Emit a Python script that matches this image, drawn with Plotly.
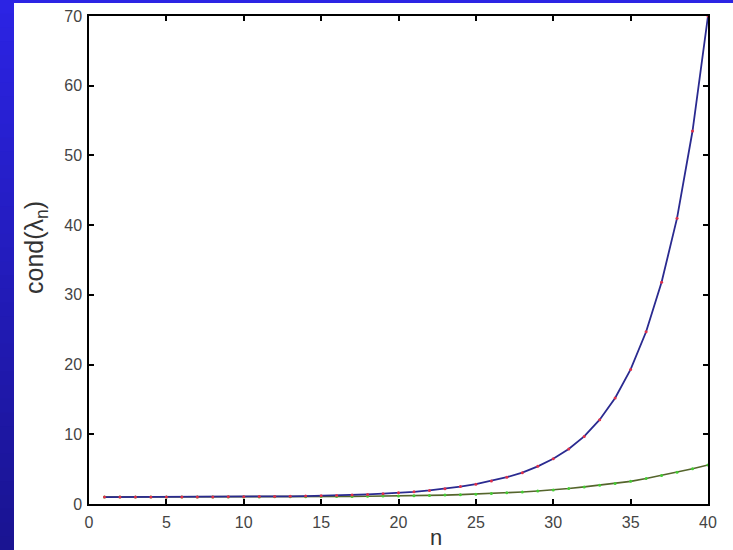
import plotly.graph_objects as go

n_vals = list(range(1, 41))
cond_blue = [1.0, 1.0, 1.0, 1.0, 1.0, 1.01, 1.01, 1.02, 1.03, 1.04,
             1.06, 1.08, 1.1, 1.14, 1.18, 1.23, 1.3, 1.38, 1.48, 1.6,
             1.75, 1.95, 2.2, 2.5, 2.85, 3.3, 3.85, 4.5, 5.4, 6.5,
             7.9, 9.7, 12.1, 15.2, 19.3, 24.7, 31.8, 41.0, 53.5, 70.0]
cond_green = [1.0, 1.0, 1.0, 1.0, 1.0, 1.0, 1.0, 1.0, 1.01, 1.02,
              1.02, 1.03, 1.04, 1.05, 1.06, 1.07, 1.09, 1.11, 1.13, 1.16,
              1.19, 1.23, 1.28, 1.34, 1.41, 1.5, 1.6, 1.72, 1.86, 2.02,
              2.22, 2.45, 2.7, 2.95, 3.25, 3.65, 4.1, 4.55, 5.05, 5.6]
x_ticks = [0, 5, 10, 15, 20, 25, 30, 35, 40]
y_ticks = [0, 10, 20, 30, 40, 50, 60, 70]
x_label = "n"
y_label = "cond(λ<sub>n</sub>)"

W, H = 733, 550
L, R, T, B = 89, 25, 16, 46
pw, ph = W - L - R, H - T - B

def px_x(p):
    return (p - L) / pw

def px_y(p):
    return (H - B - p) / ph

FONT = "Liberation Sans, Arial, sans-serif"

fig = go.Figure()
fig.add_trace(go.Scatter(x=n_vals, y=cond_green, mode="lines+markers",
                         line=dict(color="#55652c", width=1.6),
                         marker=dict(color="#44cc33", size=3),
                         showlegend=False))
fig.add_trace(go.Scatter(x=n_vals, y=cond_blue, mode="lines+markers",
                         line=dict(color="#2a2a90", width=1.8),
                         marker=dict(color="#e0304a", size=3),
                         showlegend=False))

# blue gradient border (left strip and top strip)
shapes = []
nb = 40
c0 = (44, 36, 228)
c1 = (26, 20, 146)
for i in range(nb):
    t = i / (nb - 1)
    col = "rgb(%d,%d,%d)" % tuple(int(c0[k] + (c1[k] - c0[k]) * t) for k in range(3))
    y0p = H * i / nb
    y1p = H * (i + 1) / nb + 1
    shapes.append(dict(type="rect", xref="paper", yref="paper", layer="below",
                       x0=px_x(0), x1=px_x(14), y0=px_y(y1p), y1=px_y(y0p),
                       fillcolor=col, line=dict(width=0)))
shapes.append(dict(type="rect", xref="paper", yref="paper", layer="below",
                   x0=px_x(0), x1=px_x(W), y0=px_y(3), y1=px_y(0),
                   fillcolor="rgb(44,36,228)", line=dict(width=0)))

axis_common = dict(showline=True, linecolor="black", linewidth=1.5, mirror="ticks",
                   ticks="inside", ticklen=5, tickwidth=1.5, tickcolor="black",
                   showgrid=False, zeroline=False, automargin=False,
                   tickfont=dict(family=FONT, size=16, color="#444"))

annotations = [
    dict(text=x_label, xref="paper", yref="paper", x=px_x(436), y=px_y(537),
         xanchor="center", yanchor="middle", showarrow=False,
         font=dict(family=FONT, size=22, color="#333")),
    dict(text=y_label, xref="paper", yref="paper", x=px_x(36), y=px_y(248),
         xanchor="center", yanchor="middle", showarrow=False, textangle=-90,
         font=dict(family=FONT, size=25, color="#333")),
]

fig.update_layout(
    width=W, height=H,
    margin=dict(l=L, r=R, t=T, b=B),
    paper_bgcolor="white", plot_bgcolor="white",
    shapes=shapes, annotations=annotations,
    xaxis=dict(range=[0, 40], tickvals=x_ticks, ticklabelstandoff=3, **axis_common),
    yaxis=dict(range=[0, 70], tickvals=y_ticks, ticklabelstandoff=2, **axis_common),
)

fig.write_html("out.html", config={"displayModeBar": False},
               post_script="document.body.style.margin='0';document.body.style.overflow='hidden';")
